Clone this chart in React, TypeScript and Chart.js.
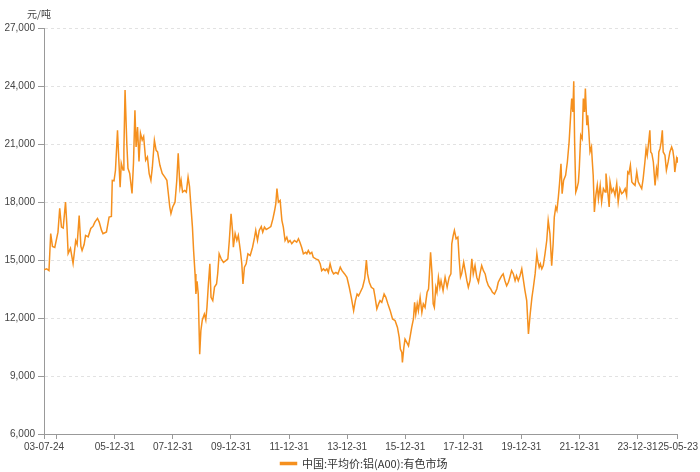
import React, { useEffect, useRef } from 'react';
import { Chart, registerables } from 'chart.js';

Chart.register(...registerables);

const seriesName = '中国:平均价:铝(A00):有色市场';
const unitLabel = '元/吨';

// dates as decimal years
const yearFrac = [
  2003.559, 2003.65, 2003.73, 2003.79, 2003.85, 2003.93, 2004.04, 2004.10, 2004.16, 2004.22,
  2004.30, 2004.35, 2004.39, 2004.47, 2004.56, 2004.65, 2004.70, 2004.77, 2004.83, 2004.87,
  2004.94, 2004.99, 2005.08, 2005.17, 2005.25, 2005.31, 2005.40, 2005.46, 2005.54, 2005.59,
  2005.71, 2005.80, 2005.88, 2005.91, 2005.97, 2006.02, 2006.09, 2006.13, 2006.18, 2006.22,
  2006.28, 2006.31, 2006.35, 2006.41, 2006.45, 2006.51, 2006.59, 2006.64, 2006.69, 2006.73,
  2006.78, 2006.83, 2006.88, 2006.94, 2006.99, 2007.06, 2007.12, 2007.18, 2007.24, 2007.29,
  2007.36, 2007.42, 2007.47, 2007.55, 2007.63, 2007.72, 2007.79, 2007.84, 2007.89, 2007.93,
  2007.99, 2008.07, 2008.13, 2008.18, 2008.24, 2008.28, 2008.33, 2008.40, 2008.46, 2008.52,
  2008.57, 2008.62, 2008.67, 2008.71, 2008.76, 2008.79, 2008.83, 2008.87, 2008.92, 2008.96,
  2009.01, 2009.08, 2009.13, 2009.17, 2009.22, 2009.27, 2009.31, 2009.37, 2009.43, 2009.50,
  2009.54, 2009.59, 2009.66, 2009.74, 2009.82, 2009.89, 2009.94, 2010.00, 2010.05, 2010.08,
  2010.14, 2010.20, 2010.25, 2010.32, 2010.37, 2010.41, 2010.46, 2010.52, 2010.58, 2010.66,
  2010.74, 2010.81, 2010.85, 2010.91, 2010.97, 2011.04, 2011.09, 2011.15, 2011.21, 2011.29,
  2011.37, 2011.44, 2011.50, 2011.54, 2011.58, 2011.63, 2011.69, 2011.75, 2011.80, 2011.86,
  2011.92, 2011.97, 2012.03, 2012.09, 2012.18, 2012.26, 2012.32, 2012.37, 2012.43, 2012.49,
  2012.57, 2012.61, 2012.66, 2012.72, 2012.78, 2012.83, 2012.92, 2013.01, 2013.07, 2013.12,
  2013.18, 2013.24, 2013.30, 2013.35, 2013.41, 2013.47, 2013.53, 2013.61, 2013.68, 2013.76,
  2013.82, 2013.91, 2013.99, 2014.07, 2014.14, 2014.22, 2014.28, 2014.34, 2014.39, 2014.45,
  2014.53, 2014.60, 2014.66, 2014.70, 2014.76, 2014.83, 2014.91, 2014.96, 2015.02, 2015.08,
  2015.13, 2015.19, 2015.27, 2015.33, 2015.40, 2015.48, 2015.56, 2015.65, 2015.73, 2015.79,
  2015.83, 2015.88, 2015.90, 2015.95, 2015.99, 2016.05, 2016.11, 2016.17, 2016.22, 2016.28,
  2016.32, 2016.36, 2016.41, 2016.45, 2016.51, 2016.57, 2016.62, 2016.68, 2016.75, 2016.80,
  2016.83, 2016.87, 2016.92, 2016.96, 2017.00, 2017.05, 2017.09, 2017.14, 2017.19, 2017.23,
  2017.30, 2017.37, 2017.44, 2017.51, 2017.57, 2017.60, 2017.65, 2017.69, 2017.75, 2017.81,
  2017.85, 2017.90, 2017.94, 2018.01, 2018.06, 2018.12, 2018.17, 2018.23, 2018.29, 2018.34,
  2018.40, 2018.46, 2018.52, 2018.57, 2018.63, 2018.69, 2018.75, 2018.80, 2018.86, 2018.94,
  2019.00, 2019.07, 2019.15, 2019.20, 2019.26, 2019.32, 2019.37, 2019.43, 2019.49, 2019.55,
  2019.60, 2019.66, 2019.72, 2019.78, 2019.83, 2019.89, 2019.95, 2020.01, 2020.06, 2020.12,
  2020.18, 2020.24, 2020.30, 2020.36, 2020.41, 2020.47, 2020.53, 2020.56, 2020.61, 2020.65,
  2020.70, 2020.75, 2020.81, 2020.87, 2020.92, 2020.98, 2021.04, 2021.09, 2021.13, 2021.18,
  2021.22, 2021.27, 2021.31, 2021.36, 2021.40, 2021.45, 2021.52, 2021.58, 2021.64, 2021.70,
  2021.73, 2021.77, 2021.80, 2021.83, 2021.87, 2021.91, 2021.96, 2021.99, 2022.04, 2022.09,
  2022.13, 2022.17, 2022.20, 2022.25, 2022.28, 2022.32, 2022.36, 2022.41, 2022.44, 2022.47,
  2022.51, 2022.56, 2022.61, 2022.65, 2022.71, 2022.76, 2022.82, 2022.88, 2022.91, 2022.96,
  2023.02, 2023.05, 2023.11, 2023.16, 2023.22, 2023.28, 2023.33, 2023.39, 2023.45, 2023.51,
  2023.57, 2023.62, 2023.66, 2023.70, 2023.75, 2023.80, 2023.85, 2023.91, 2023.97, 2024.02,
  2024.08, 2024.14, 2024.19, 2024.25, 2024.29, 2024.33, 2024.38, 2024.42, 2024.45, 2024.49,
  2024.54, 2024.60, 2024.65, 2024.69, 2024.73, 2024.77, 2024.81, 2024.85, 2024.88, 2024.94,
  2024.99, 2025.05, 2025.11, 2025.17, 2025.21, 2025.25, 2025.28, 2025.34, 2025.37, 2025.389,
];

const prices = [
  14500, 14540, 14450, 16370, 15700, 15650, 16440, 17670, 16700, 16650,
  18000, 16700, 15330, 15600, 14820, 16000, 15800, 17300, 15700, 15490,
  15800, 16270, 16200, 16630, 16750, 16960, 17150, 16960, 16530, 16360,
  16450, 17220, 17250, 19120, 19100, 19640, 21710, 20330, 18770, 20000,
  19650, 20670, 23790, 21040, 19740, 19480, 18440, 20000, 22750, 20850,
  21880, 20100, 21560, 21200, 21390, 20160, 20330, 19470, 19120, 19800,
  21190, 20670, 20590, 19900, 19480, 19290, 19120, 18440, 17740, 17400,
  17740, 17990, 19100, 20520, 18770, 19120, 18510, 18600, 18510, 19290,
  18800, 17740, 16700, 15490, 14280, 13240, 13900, 13240, 10130, 11340,
  11900, 12200, 11900, 12550, 13760, 14800, 13070, 12900, 13600, 13760,
  14300, 15320, 15060, 14880, 14970, 15060, 16010, 17390, 16500, 15660,
  16370, 16010, 16270, 15490, 14800, 13760, 14630, 14800, 15320, 15230,
  15660, 16180, 16530, 16010, 16530, 16730, 16440, 16700, 16580, 16650,
  16730, 17130, 17560, 17900, 18690, 17990, 18080, 17050, 16700, 16010,
  16180, 15920, 16010, 15840, 16010, 15920, 16100, 15920, 15660, 15320,
  15400, 15320, 15490, 15320, 15400, 15140, 15060, 15000, 14800, 14450,
  14540, 14450, 14540, 14360, 14800, 14450, 14280, 14360, 14280, 14630,
  14450, 14280, 14110, 13590, 13070, 12380, 12900, 13240, 13150, 13330,
  13590, 14020, 15000, 14280, 13850, 13590, 13500, 13070, 12470, 12730,
  12900, 12810, 13240, 13070, 12730, 12380, 11950, 11860, 11510, 11000,
  10390, 10220, 9700, 10480, 10910, 10740, 10560, 11070, 11510, 11950,
  12810, 12200, 12730, 12380, 13070, 12290, 12730, 12550, 13330, 13500,
  14270, 15400, 14270, 12730, 12550, 13590, 13330, 14110, 13590, 13930,
  13415, 14110, 13590, 14110, 14280, 15840, 16270, 16530, 16100, 16180,
  15140, 14110, 14280, 14880, 14450, 13930, 13590, 13930, 15060, 14280,
  14710, 14110, 13850, 14280, 14710, 14450, 14280, 13930, 13670, 13500,
  13330, 13240, 13500, 13850, 14020, 14190, 14280, 13930, 13670, 13850,
  14110, 14450, 14280, 13930, 14190, 13930, 14190, 14540, 14020, 13420,
  12900, 11170, 12210, 13070, 13590, 14280, 15320, 14970, 14620, 14800,
  14540, 14710, 15320, 16010, 17050, 16360, 14710, 15840, 17220, 17740,
  17570, 18250, 18950, 19980, 18430, 19120, 19380, 20070, 21100, 22660,
  23350, 22660, 24250, 21100, 18510, 18690, 19030, 19720, 21450, 21280,
  23350, 22660, 23870, 21970, 22490, 21620, 20590, 20850, 20070, 19380,
  17480, 18340, 18860, 18170, 18860, 18000, 18690, 18520, 19470, 18690,
  17740, 19040, 18520, 18690, 18340, 18950, 18000, 18690, 18430, 18520,
  18690, 18340, 19550, 19470, 19900, 19040, 18950, 18860, 19550, 19040,
  18860, 18690, 19210, 20070, 20760, 20420, 21100, 21710, 20590, 20500,
  20070, 18860, 19720, 19380, 20590, 20760, 21100, 21710, 20590, 20420,
  19640, 20070, 20590, 20850, 20680, 20240, 19550, 20240, 20070, 20330,
];

const tickDates = [
  '2003-07-24', '2003-12-31', '2005-12-31', '2007-12-31', '2009-12-31', '2011-12-31',
  '2013-12-31', '2015-12-31', '2017-12-31', '2019-12-31', '2021-12-31', '2023-12-31', '2025-05-23',
];
const tickLabels = [
  '03-07-24', '', '05-12-31', '07-12-31', '09-12-31', '11-12-31',
  '13-12-31', '15-12-31', '17-12-31', '19-12-31', '21-12-31', '23-12-31', '25-05-23',
];
const yMin = 6000;
const yMax = 27000;
const yStep = 3000;

function toYearFrac(s: string): number {
  const [y, m, d] = s.split('-').map(Number);
  const start = Date.UTC(y, 0, 1);
  const end = Date.UTC(y + 1, 0, 1);
  return y + (Date.UTC(y, m - 1, d) - start) / (end - start);
}

const LINE = '#F5901E';
const TICK_FONT = { family: '"Liberation Sans", Arial, sans-serif', size: 10 };

const unitPlugin = {
  id: 'unitLabel',
  afterLayout(chart: any) {
    const lg = chart.legend;
    if (lg) {
      lg.left += 25;
      lg.right += 25;
    }
  },
  afterDraw(chart: any) {
    const { ctx, chartArea } = chart;
    ctx.save();
    ctx.font = '10px "Noto Sans CJK SC", sans-serif';
    ctx.fillStyle = '#444';
    ctx.textAlign = 'center';
    ctx.textBaseline = 'middle';
    ctx.fillText(unitLabel, chartArea.left - 5, chartArea.top - 14);
    ctx.restore();
  },
};

export default function App() {
  const ref = useRef<HTMLCanvasElement | null>(null);
  useEffect(() => {
    if (!ref.current) return;
    const data = yearFrac.map((x, i) => ({ x, y: prices[i] }));
    const chart = new Chart(ref.current, {
      type: 'line',
      data: {
        datasets: [
          {
            label: seriesName,
            data,
            borderColor: LINE,
            backgroundColor: LINE,
            borderWidth: 1.5,
            pointRadius: 0,
            tension: 0,
            fill: false,
          },
        ],
      },
      options: {
        responsive: false,
        animation: false,
        layout: { padding: { top: 28, right: 22, left: 0, bottom: -7 } },
        plugins: {
          legend: {
            position: 'bottom',
            labels: {
              boxWidth: 16,
              boxHeight: 2,
              padding: 0,
              color: '#333',
              font: { family: '"Noto Sans CJK SC", sans-serif', size: 11 },
            },
          },
          tooltip: { enabled: false },
        },
        scales: {
          x: {
            type: 'linear',
            min: toYearFrac(tickDates[0]),
            max: toYearFrac(tickDates[tickDates.length - 1]),
            afterBuildTicks: (s: any) => {
              s.ticks = tickDates.map((d) => ({ value: toYearFrac(d) }));
            },
            afterFit: (s: any) => {
              s.height = 24;
            },
            ticks: {
              autoSkip: false,
              maxRotation: 0,
              padding: 2,
              color: '#444',
              font: TICK_FONT,
              callback: (_v: any, i: number) => tickLabels[i],
            },
            grid: { drawOnChartArea: false, drawTicks: true, tickLength: 5, color: '#999' },
            border: { color: '#999' },
          },
          y: {
            min: yMin,
            max: yMax,
            afterFit: (s: any) => {
              s.width = 44;
            },
            ticks: {
              stepSize: yStep,
              padding: 3,
              color: '#444',
              font: TICK_FONT,
              callback: (v: any) => Number(v).toLocaleString('en-US'),
            },
            grid: {
              color: '#e2e2e2',
              tickColor: '#999',
              tickLength: 6,
              tickBorderDash: [],
              drawTicks: true,
            },
            border: { color: '#999', dash: [3, 3] },
          },
        },
      },
      plugins: [unitPlugin],
    } as any);
    return () => chart.destroy();
  }, []);
  return (
    <div style={{ position: 'absolute', left: 0, top: 0, width: 700, height: 472, background: '#fff' }}>
      <canvas ref={ref} width={700} height={472} />
    </div>
  );
}
